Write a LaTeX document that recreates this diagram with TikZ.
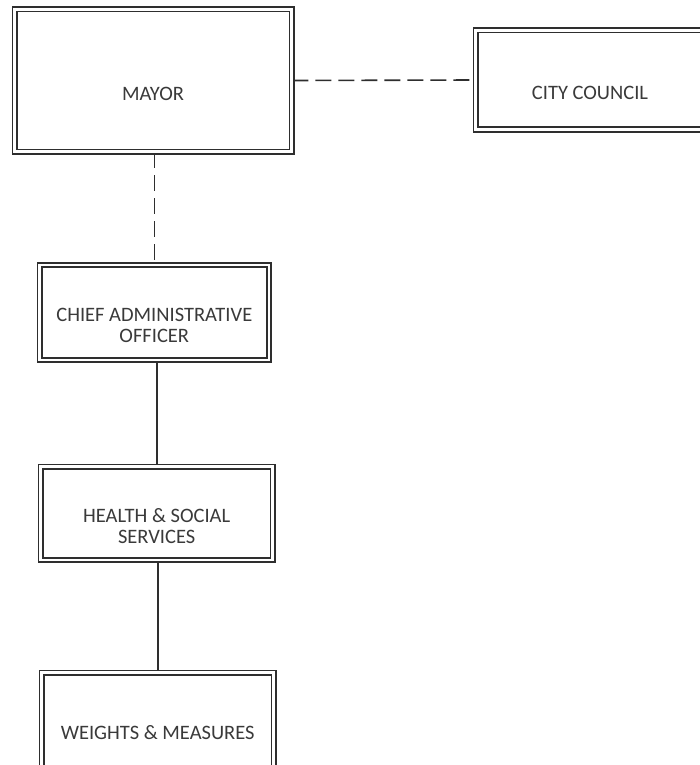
\documentclass[tikz,border=0pt]{standalone}
\usepackage{fontspec}
\setmainfont{Carlito}
\usetikzlibrary{backgrounds}
\definecolor{edge}{HTML}{2E2E2E}
\definecolor{ink}{HTML}{3A3A3A}
\begin{document}
\begin{tikzpicture}[x=1pt,y=-1pt,
  orgbox/.style={rectangle, draw=edge, line width=1.6pt, double=white,
    double distance=2.8pt, inner sep=0pt},
  boxtext/.style={text=ink, align=center, yshift=-13pt,
    font=\fontsize{20.5}{21.5}\selectfont},
  link/.style={draw=edge, line width=1.6pt},
  dashlink/.style={link, dash pattern=on 16pt off 7pt}]
  \useasboundingbox (0,0) rectangle (699,765);

  % offices
  \node[orgbox, minimum width=277pt, minimum height=142pt,
    label={[boxtext]center:MAYOR}] (mayor) at (153,80.5) {};
  \node[orgbox, minimum width=229pt, minimum height=99pt,
    label={[boxtext]center:CITY COUNCIL}] (council) at (590,80) {};
  \node[orgbox, minimum width=229.5pt, minimum height=95pt,
    label={[boxtext]center:CHIEF ADMINISTRATIVE\\OFFICER}] (cao) at (154.3,312.5) {};
  \node[orgbox, minimum width=231.7pt, minimum height=93.5pt,
    label={[boxtext]center:HEALTH \& SOCIAL\\SERVICES}] (health) at (156.7,513.3) {};
  \node[orgbox, minimum width=231.7pt, minimum height=95pt,
    label={[boxtext]center:WEIGHTS \& MEASURES}] (weights) at (157.7,720) {};

  % page background and reporting lines, kept behind the double borders
  \begin{pgfonlayer}{background}
    \fill[white] (0,0) rectangle (699,765);
    \draw[dashlink] (mayor.east) -- (council.west);
    \draw[dashlink] (cao.north |- mayor.south) -- (cao.north);
    \draw[link] (health.north |- cao.south) -- (health.north);
    \draw[link] (weights.north |- health.south) -- (weights.north);
  \end{pgfonlayer}
\end{tikzpicture}
\end{document}
